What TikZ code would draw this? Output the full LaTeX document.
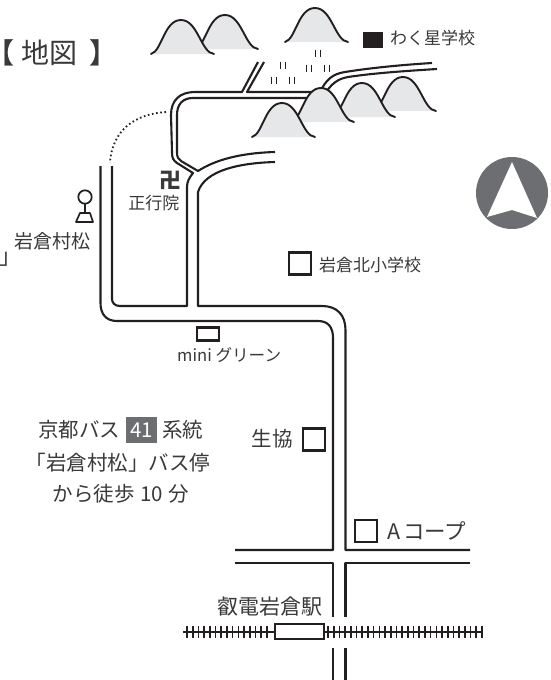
\documentclass[tikz,border=0pt]{standalone}
\usepackage{fontspec}
\setmainfont{Noto Sans CJK JP}
\newfontfamily\paltfont[RawFeature={+palt},BoldFont={Noto Sans CJK JP Bold}]{Noto Sans CJK JP}
\definecolor{ink}{HTML}{231F20}
\definecolor{txt}{HTML}{3A3839}
\definecolor{mtn}{HTML}{E6E7E8}
\definecolor{slate}{HTML}{6D6E71}
\newcommand{\fs}[1]{\fontsize{#1}{#1}\selectfont}
\tikzset{
  road/.style={draw=ink,line width=2.1pt,line join=round},
  sq/.style={draw=ink,line width=2.3pt,fill=white},
  lbl/.style={inner sep=0pt,text=txt,font=\fs{17}},
  bar/.style={draw=ink,line width=1.7pt},
  mountain/.pic={
    \fill[mtn] (-30,34) .. controls (-19,31) and (-17,0) .. (0,0) .. controls (17,0) and (20,33) .. (33,34) -- cycle;
    \draw[ink,line width=1.9pt,line cap=round] (-30,34) .. controls (-19,31) and (-17,0) .. (0,0) .. controls (17,0) and (20,33) .. (33,34);
  },
  hashes/.pic={
    \draw[bar] (-2.5,-3.5) -- (-2.5,3.5) (2.5,-3.5) -- (2.5,3.5);
  }
}
\begin{document}
\begin{tikzpicture}[x=1pt,y=-1pt]
\useasboundingbox (0,0) rectangle (550,680);
% roads
\draw[road] (100.5,166) -- (100.5,303) .. controls (100.5,314) and (106,321) .. (117,321) -- (318,321) .. controls (328,321) and (333,327) .. (333,338) -- (333,550) -- (235,550);
\draw[road] (112,166) -- (112,299) .. controls (112,303) and (115,306) .. (120,306) -- (187,306) -- (187,187) .. controls (187,182) and (189,178) .. (193,173) -- (177,163) .. controls (173,160) and (172,158) .. (172,152) -- (171,115) .. controls (171,100) and (180,92) .. (195,92) -- (242,92) -- (258,62);
\draw[road] (264,62) -- (247,92) -- (315,92);
\draw[road] (315,98) -- (193,98) .. controls (182,98) and (177,105) .. (177,115) -- (177,152) .. controls (177,157) and (178,159) .. (181,161) -- (198,171) .. controls (215,160) and (240,153) .. (275,152);
\draw[road] (275,162) .. controls (240,163) and (205,170) .. (198,192) -- (198,306) -- (322,306) .. controls (337,306) and (345.5,315) .. (345.5,330) -- (345.5,550) -- (470,550);
\draw[road] (235,563) -- (333,563) -- (333,617);
\draw[road] (470,563) -- (345.5,563) -- (345.5,617);
\draw[road] (333,648) -- (333,680);
\draw[road] (345.5,648) -- (345.5,680);
\draw[road] (320,92) .. controls (326,80) and (332,74) .. (345,72) .. controls (370,68) and (400,65) .. (432,63);
\draw[road] (326,92) .. controls (332,84) and (337,79) .. (348,77) .. controls (375,73) and (405,71) .. (437,69);
\draw[ink,line width=1.8pt,dash pattern=on 1.6pt off 2.6pt] (166,112) .. controls (135,114) and (112,130) .. (110,163);
% hash marks
\foreach \hx/\hy in {283/65,309/68,327/68,318/53,274/80,292/80}
  \pic at (\hx,\hy) {hashes};
% mountains
\pic at (225,15) {mountain};
\pic at (181,20) {mountain};
\pic at (315,8) {mountain};
\pic at (403,77) {mountain};
\pic at (362,83) {mountain};
\pic at (321,88) {mountain};
\pic at (282,103) {mountain};
% rail
\draw[ink,line width=2pt] (183,632) -- (483,632);
\foreach \tx in {187,192.7,...,272} \draw[ink,line width=1.6pt] (\tx,626) -- (\tx,638);
\foreach \tx in {328,333.7,...,482} \draw[ink,line width=1.6pt] (\tx,626) -- (\tx,638);
\node[sq,minimum width=49pt,minimum height=14.5pt,inner sep=0pt,line width=2pt] (station) at (299,631.5) {};
% north mark
\fill[slate] (512,193) circle (36);
\fill[white] (512,162) -- (537,218) -- (512,210) -- (487,217) -- cycle;
% squares
\node[sq,minimum width=22pt,minimum height=22pt,inner sep=0pt] (kita) at (300,263.5) {};
\node[sq,minimum width=22pt,minimum height=22pt,inner sep=0pt] (seikyo) at (314,439.5) {};
\node[sq,minimum width=22pt,minimum height=22pt,inner sep=0pt] (acoop) at (366,531) {};
\node[sq,minimum width=22.5pt,minimum height=13pt,inner sep=0pt] (mini) at (208,334) {};
\node[fill=ink,minimum width=20pt,minimum height=16pt,inner sep=0pt] (waku) at (373,40) {};
% bus stop
\draw[ink,line width=1.7pt] (85,197) circle (6.7);
\draw[ink,line width=1.7pt] (85,203.7) -- (85,213);
\draw[ink,line width=1.7pt,line join=round] (80,213) -- (90,213) -- (93,222) -- (76,222) -- cycle;
% labels
\node[lbl,font=\fs{28}\paltfont,anchor=west] (title) at (0,53) {\textbf{【}\hspace{7pt}地図\hspace{13pt}\textbf{】}};
\node[lbl,anchor=west] (wakul) at (390,38) {わく星学校};
\node[lbl,anchor=west] (kital) at (319,265) {岩倉北小学校};
\node[lbl,font=\fs{22}\bfseries] (manji) at (170,180) {卍};
\node[lbl,anchor=east] (shogyo) at (179.5,203) {正行院};
\node[lbl,anchor=east,font=\fs{19}] (iwakura) at (91,241) {岩倉村松};
\node[lbl,anchor=west,font=\fs{22}\paltfont] (hook) at (0,259) {」};
\node[lbl,anchor=west,font=\fs{16.6}] (minil) at (177,355) {mini グリーン};
\node[lbl,anchor=west,font=\fs{20.5}] (bus1a) at (38,430) {京都バス};
\node[fill=slate,minimum width=31pt,minimum height=26pt,inner sep=0pt,text=white,font=\fs{20.5}] (num) at (141.5,430) {41};
\node[lbl,anchor=west,font=\fs{20.5}] (bus1b) at (162,430) {系統};
\node[lbl,font=\fs{20.5}] (bus2) at (118,463) {「岩倉村松」バス停};
\node[lbl,font=\fs{20.5}] (bus3) at (121,494) {から徒歩\hspace{1pt} 10\hspace{1pt} 分};
\node[lbl,anchor=east,font=\fs{20.5}] (seikyol) at (293,439) {生協};
\node[lbl,anchor=west,font=\fs{21.5}] (acoopl) at (387,531) {A\hspace{3pt}コープ};
\node[lbl,anchor=east,font=\fs{21}] (eiden) at (323,607) {叡電岩倉駅};
\end{tikzpicture}
\end{document}
